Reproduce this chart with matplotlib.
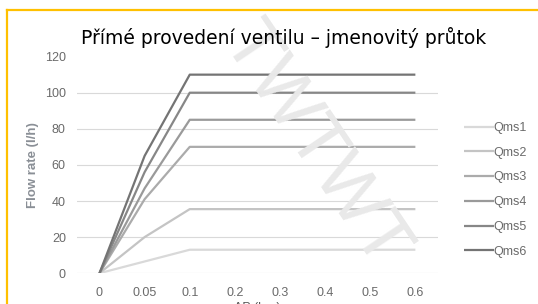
import matplotlib
matplotlib.use('Agg')
import matplotlib.pyplot as plt
from matplotlib.lines import Line2D

# category axis labels (ΔP in bar)
dp_labels = ["0", "0.05", "0.1", "0.2", "0.3", "0.4", "0.5", "0.6"]

series_names = ["Qms1", "Qms2", "Qms3", "Qms4", "Qms5", "Qms6"]
qms1 = [0, 6.5, 13, 13, 13, 13, 13, 13]
qms2 = [0, 20, 35.5, 35.5, 35.5, 35.5, 35.5, 35.5]
qms3 = [0, 41, 70, 70, 70, 70, 70, 70]
qms4 = [0, 47, 85, 85, 85, 85, 85, 85]
qms5 = [0, 56, 100, 100, 100, 100, 100, 100]
qms6 = [0, 65, 110, 110, 110, 110, 110, 110]
y_ticks = [0, 20, 40, 60, 80, 100, 120]

COLORS = ["#d9d9d9", "#c4c4c4", "#ababab", "#9a9a9a", "#878787", "#747474"]
ORANGE = "#ffc000"

fig = plt.figure(figsize=(5.38, 3.04), dpi=100)
fig.patch.set_facecolor('white')
ax = fig.add_axes([0.143, 0.1013, 0.671, 0.7125])

# faint diagonal watermark behind everything
fig.text(0.585, 0.52, "TWTWT", rotation=-56, fontsize=54, fontweight='light',
         color='#e9e9e9', ha='center', va='center', zorder=0,
         family='Liberation Sans')
ax.set_facecolor('none')

x = list(range(len(dp_labels)))
all_series = [qms1, qms2, qms3, qms4, qms5, qms6]
for name, vals, col in zip(series_names, all_series, COLORS):
    ax.plot(x, vals, color=col, linewidth=1.6, label=name, zorder=3,
            solid_capstyle='butt')

ax.set_xlim(-0.5, len(dp_labels) - 0.5)
ax.set_ylim(0, 120)
ax.set_xticks(x)
ax.set_xticklabels(dp_labels)
ax.set_yticks(y_ticks)
ax.grid(axis='y', color='#d9d9d9', linewidth=0.8, zorder=1)
ax.get_ygridlines()[-1].set_visible(False)
for spine in ax.spines.values():
    spine.set_visible(False)
ax.tick_params(length=0, labelsize=9, labelcolor='#6a6a6a', pad=10)
ax.tick_params(axis='y', pad=8)
for lbl in ax.get_xticklabels() + ax.get_yticklabels():
    lbl.set_family('Liberation Sans')

ax.set_xlabel("ΔP (bar)", fontsize=9, color='#595959', labelpad=2,
              family='Liberation Sans')
ax.set_ylabel("Flow rate (l/h)", fontsize=9.5, fontweight='bold', color='#8a8f96',
              labelpad=4, family='Liberation Sans')

fig.text(0.527, 0.875, "Přímé provedení ventilu – jmenovitý průtok",
         fontsize=13.5, color='black', ha='center', va='center')

leg = ax.legend(loc='center left', bbox_to_anchor=(1.04, 0.385), frameon=False,
                handlelength=2.4, handletextpad=0.0, labelspacing=1.02,
                prop={'family': 'Liberation Sans', 'size': 9})
for t in leg.get_texts():
    t.set_color('#6a6a6a')

# orange frame (top and left edges visible in the crop)
fig.add_artist(Line2D([0.013, 1.0], [0.968, 0.968], color=ORANGE, linewidth=1.6,
                      transform=fig.transFigure))
fig.add_artist(Line2D([0.013, 0.013], [0.0, 0.968], color=ORANGE, linewidth=1.6,
                      transform=fig.transFigure))

fig.savefig("out.png", dpi=100, facecolor=fig.get_facecolor())
